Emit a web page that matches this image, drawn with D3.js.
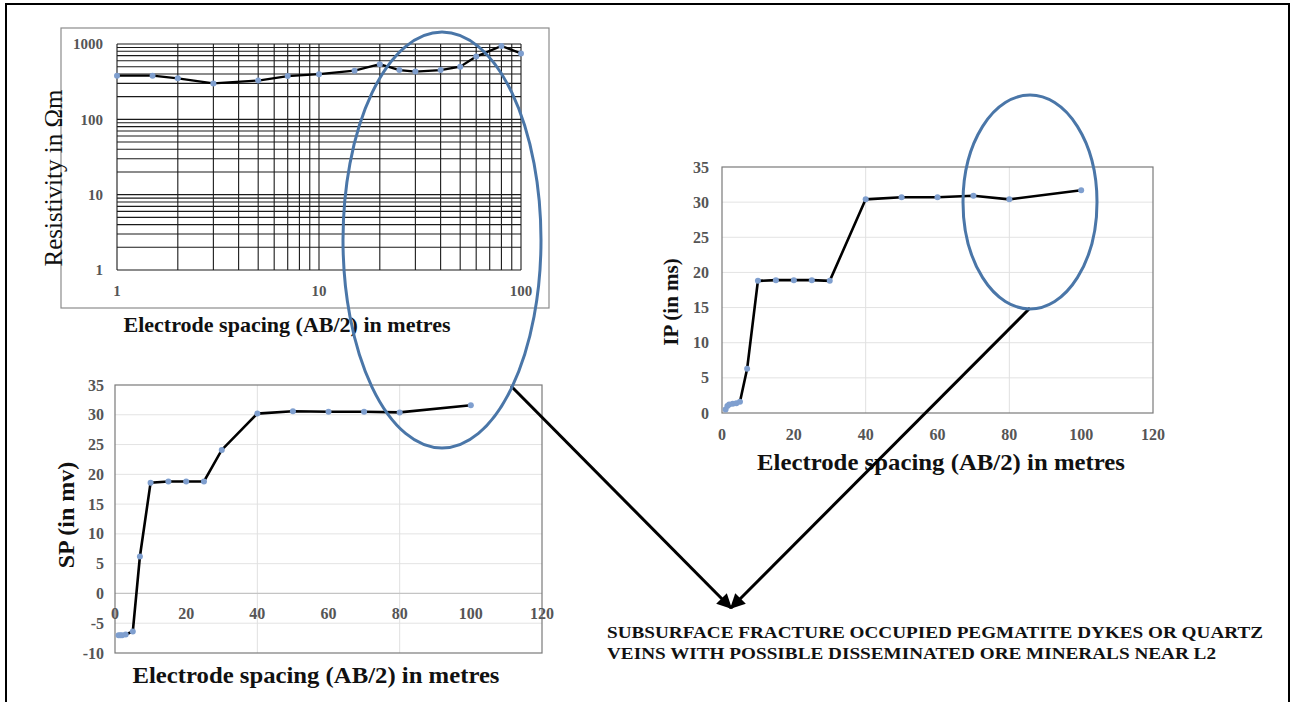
<!DOCTYPE html>
<html><head><meta charset="utf-8">
<script src="https://cdn.jsdelivr.net/npm/d3@7"></script>
<style>body{margin:0;background:#fff}svg{display:block}text{font-family:"Liberation Serif","Times New Roman",serif}</style>
</head><body><svg id="c" width="1292" height="702"></svg>
<script>
// ---- data ----
const resX = [1, 1.5, 2, 3, 5, 7, 10, 15, 20, 25, 30, 40, 50, 60, 80, 100];
const resY = [380, 380, 350, 300, 327, 375, 397, 443, 540, 450, 430, 450, 500, 680, 940, 750];
const resYTicks = [1, 10, 100, 1000];
const resXTicks = [1, 10, 100];

const ipX = [1, 1.5, 2, 3, 4, 5, 7, 10, 15, 20, 25, 30, 40, 50, 60, 70, 80, 100];
const ipY = [0.5, 1.0, 1.2, 1.3, 1.4, 1.6, 6.3, 18.8, 18.9, 18.9, 18.9, 18.8, 30.4, 30.7, 30.7, 30.9, 30.4, 31.7];
const ipYTicks = [0, 5, 10, 15, 20, 25, 30, 35];
const ipXTicks = [0, 20, 40, 60, 80, 100, 120];

const spX = [1, 1.5, 2, 3, 5, 7, 10, 15, 20, 25, 30, 40, 50, 60, 70, 80, 100];
const spY = [-7, -7, -7, -6.9, -6.4, 6.2, 18.6, 18.8, 18.8, 18.8, 24.1, 30.2, 30.6, 30.5, 30.5, 30.4, 31.6];
const spYTicks = [-10, -5, 0, 5, 10, 15, 20, 25, 30, 35];
const spXTicks = [0, 20, 40, 60, 80, 100, 120];

const xTitle = "Electrode spacing (AB/2) in metres";
const noteLines = ["SUBSURFACE FRACTURE OCCUPIED PEGMATITE DYKES OR QUARTZ",
                   "VEINS WITH POSSIBLE DISSEMINATED ORE MINERALS NEAR L2"];

const svg = d3.select("#c");
svg.append("rect").attr("width",1292).attr("height",702).attr("fill","#fff");
// page border (top, left, right)
svg.append("path").attr("d","M6,702 L6,4 L1289,4 L1289,702").attr("fill","none").attr("stroke","#000").attr("stroke-width",2);

const tickCol = "#555";
const markerCol = "#7f9fcf";

// ---------- Resistivity (log-log) ----------
{
  const L=117,R=521,T=44,B=270;
  svg.append("rect").attr("x",61).attr("y",28).attr("width",488).attr("height",280).attr("fill","#fff").attr("stroke","#8c8c8c").attr("stroke-width",1.2);
  const x=d3.scaleLog().domain([1,100]).range([L,R]);
  const y=d3.scaleLog().domain([1,1000]).range([B,T]);
  const g=svg.append("g");
  const xg=[]; for(let d=1;d<100;d*=10) for(let k=1;k<10;k++) xg.push(k*d); xg.push(100);
  const yg=[]; for(let d=1;d<1000;d*=10) for(let k=1;k<10;k++) yg.push(k*d); yg.push(1000);
  g.selectAll("line.v").data(xg).join("line").attr("x1",d=>x(d)).attr("x2",d=>x(d)).attr("y1",T).attr("y2",B).attr("stroke","#1a1a1a").attr("stroke-width",1.1);
  g.selectAll("line.h").data(yg).join("line").attr("class","h").attr("x1",L).attr("x2",R).attr("y1",d=>y(d)).attr("y2",d=>y(d)).attr("stroke","#1a1a1a").attr("stroke-width",1.1);
  const pts=resX.map((v,i)=>[v,resY[i]]);
  g.append("path").datum(pts).attr("d",d3.line().x(d=>x(d[0])).y(d=>y(d[1]))).attr("fill","none").attr("stroke","#000").attr("stroke-width",2.3);
  g.selectAll("circle").data(pts).join("circle").attr("cx",d=>x(d[0])).attr("cy",d=>y(d[1])).attr("r",3).attr("fill",markerCol);
  g.selectAll("text.yt").data(resYTicks).join("text").attr("x",103).attr("y",d=>y(d)).attr("dy","0.35em").attr("text-anchor","end").attr("font-size",15).attr("font-weight","bold").attr("fill",tickCol).text(d=>d);
  g.selectAll("text.xt").data(resXTicks).join("text").attr("class","xt").attr("x",d=>x(d)).attr("y",291).attr("dy","0.35em").attr("text-anchor","middle").attr("font-size",15).attr("font-weight","bold").attr("fill",tickCol).text(d=>d);
  svg.append("text").attr("transform","translate(62,178) rotate(-90)").attr("text-anchor","middle").attr("font-size",25).attr("fill","#111").text("Resistivity in Ωm");
  svg.append("text").attr("x",287).attr("y",332).attr("text-anchor","middle").attr("font-size",21).attr("font-weight","bold").attr("fill","#111")
    .attr("textLength",327).attr("lengthAdjust","spacingAndGlyphs").text(xTitle);
}

// ---------- generic linear chart ----------
function linChart(opt){
  const {L,R,T,B,xd,yd,xs,ys,xt,yt,xLabY,yLabX,title,titleX,titleY,titleW,ylab,ylabX,ylabY,ylabSize,zeroLine}=opt;
  const x=d3.scaleLinear().domain(xd).range([L,R]);
  const y=d3.scaleLinear().domain(yd).range([B,T]);
  const g=svg.append("g");
  g.selectAll("line.h").data(yt.filter(v=>v!==yd[0]&&v!==yd[1]&&v!==0)).join("line").attr("class","h")
    .attr("x1",L).attr("x2",R).attr("y1",d=>y(d)).attr("y2",d=>y(d)).attr("stroke","#e3e3e3").attr("stroke-width",1);
  g.selectAll("line.v").data([40,80]).join("line").attr("class","v")
    .attr("x1",d=>x(d)).attr("x2",d=>x(d)).attr("y1",T).attr("y2",B).attr("stroke","#e0e0e0").attr("stroke-width",1);
  if(zeroLine) g.append("line").attr("x1",L).attr("x2",R).attr("y1",y(0)).attr("y2",y(0)).attr("stroke","#c4c4c4").attr("stroke-width",1.3);
  g.append("rect").attr("x",L).attr("y",T).attr("width",R-L).attr("height",B-T).attr("fill","none").attr("stroke","#7a7a7a").attr("stroke-width",1.2);
  const pts=xs.map((v,i)=>[v,ys[i]]);
  g.append("path").datum(pts).attr("d",d3.line().x(d=>x(d[0])).y(d=>y(d[1]))).attr("fill","none").attr("stroke","#000").attr("stroke-width",2.6);
  g.selectAll("circle").data(pts).join("circle").attr("cx",d=>x(d[0])).attr("cy",d=>y(d[1])).attr("r",3).attr("fill",markerCol);
  g.selectAll("text.yt").data(yt).join("text").attr("class","yt").attr("x",yLabX).attr("y",d=>y(d)).attr("dy","0.35em").attr("text-anchor","end").attr("font-size",16).attr("font-weight","bold").attr("fill",tickCol).text(d=>d);
  g.selectAll("text.xt").data(xt).join("text").attr("class","xt").attr("x",d=>x(d)).attr("y",xLabY).attr("dy","0.35em").attr("text-anchor","middle").attr("font-size",16).attr("font-weight","bold").attr("fill",tickCol).text(d=>d);
  svg.append("text").attr("x",titleX).attr("y",titleY).attr("text-anchor","middle").attr("font-size",23).attr("font-weight","bold").attr("fill","#111")
    .attr("textLength",titleW).attr("lengthAdjust","spacingAndGlyphs").text(title);
  svg.append("text").attr("transform",`translate(${ylabX},${ylabY}) rotate(-90)`).attr("text-anchor","middle").attr("font-size",ylabSize).attr("font-weight","bold").attr("fill","#111").text(ylab);
}

linChart({L:722,R:1153,T:167,B:413,xd:[0,120],yd:[0,35],xs:ipX,ys:ipY,xt:ipXTicks,yt:ipYTicks,
  xLabY:434,yLabX:709,title:xTitle,titleX:941,titleY:470,titleW:368,ylab:"IP (in ms)",ylabX:678,ylabY:302,ylabSize:21,zeroLine:false});
linChart({L:115,R:542,T:385,B:653,xd:[0,120],yd:[-10,35],xs:spX,ys:spY,xt:spXTicks,yt:spYTicks,
  xLabY:613,yLabX:104,title:xTitle,titleX:316,titleY:683,titleW:367,ylab:"SP (in mv)",ylabX:74,ylabY:515,ylabSize:24,zeroLine:true});

// ---------- annotations ----------
const defs=svg.append("defs");
defs.append("marker").attr("id","ah").attr("viewBox","0 0 10 10").attr("refX",9).attr("refY",5)
  .attr("markerWidth",5).attr("markerHeight",5).attr("orient","auto")
  .append("path").attr("d","M0,0 L10,5 L0,10 z").attr("fill","#000");
svg.append("line").attr("x1",511).attr("y1",386).attr("x2",731).attr("y2",608).attr("stroke","#000").attr("stroke-width",3).attr("marker-end","url(#ah)");
svg.append("line").attr("x1",1030).attr("y1",308).attr("x2",731).attr("y2",608).attr("stroke","#000").attr("stroke-width",3).attr("marker-end","url(#ah)");
svg.append("ellipse").attr("cx",442).attr("cy",240).attr("rx",99).attr("ry",208).attr("fill","none").attr("stroke","#4a76a8").attr("stroke-width",3);
svg.append("ellipse").attr("cx",1030).attr("cy",202).attr("rx",67).attr("ry",107).attr("fill","none").attr("stroke","#4a76a8").attr("stroke-width",3);

const noteW=[656,609];
svg.selectAll("text.note").data(noteLines).join("text").attr("class","note")
  .attr("x",607).attr("y",(d,i)=>638+i*21).attr("font-size",17).attr("font-weight","bold").attr("fill","#111")
  .attr("textLength",(d,i)=>noteW[i]).attr("lengthAdjust","spacingAndGlyphs").text(d=>d);
</script></body></html>
